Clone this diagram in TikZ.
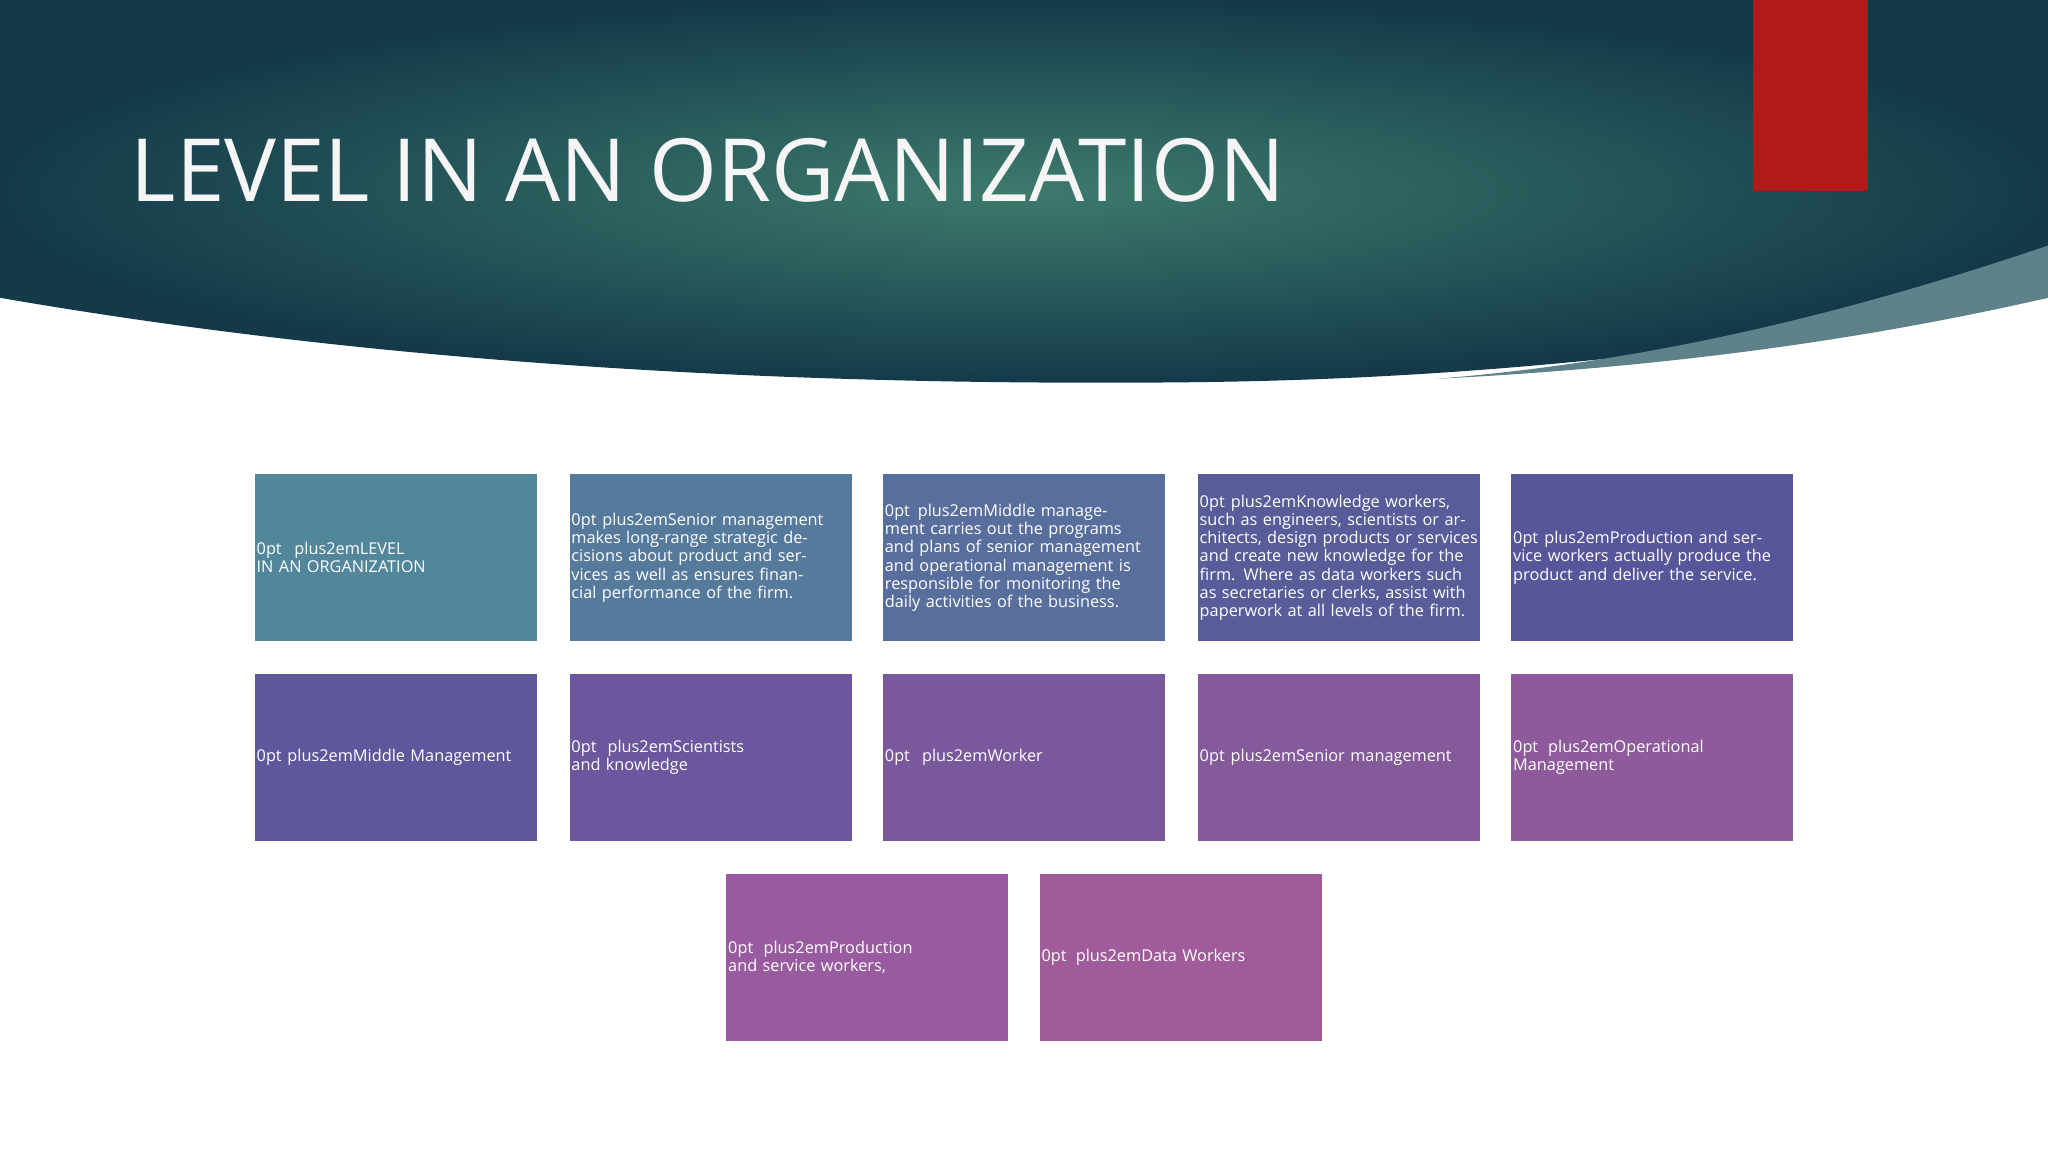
\documentclass[tikz,border=0pt]{standalone}
\usepackage{fontspec}
\setmainfont{Open Sans}
\begin{document}
\begin{tikzpicture}[x=0.02cm,y=-0.02cm,
  bx/.style={draw=none,minimum width=4.32cm,minimum height=2.56cm,text width=4.26cm,align=center,text=white,font=\fontsize{7.1}{7.9}\selectfont\hyphenpenalty=10000,inner sep=0pt}]
\useasboundingbox (0,0) rectangle (1568,882);
\fill[white] (0,0) rectangle (1568,882);
\definecolor{hdA}{HTML}{143A4A}
\definecolor{hdB}{HTML}{3D7A6C}
\shade[inner color=hdB,outer color=hdA] (0,0) -- (1568,0) -- (1568,228) .. controls (1200,290) and (1000,293) .. (840,293) .. controls (600,293) and (300,280) .. (0,228) -- cycle;
\fill[fill={rgb,255:red,95;green,130;blue,138}] (1568,188) .. controls (1400,245) and (1250,278) .. (1100,290) .. controls (1300,280) and (1450,255) .. (1568,228) -- cycle;
\fill[fill={rgb,255:red,176;green,26;blue,26}] (1342,0) rectangle (1430,146);
\node[anchor=base west,text=white!92!gray,font=\fontsize{38}{38}\selectfont] (title) at (94,154) {LEVEL IN AN ORGANIZATION};
\node[bx,fill={rgb,255:red,82;green,134;blue,154}] (a1) at (303,427) {LEVEL IN AN ORGANIZATION};
\node[bx,fill={rgb,255:red,86;green,122;blue,156}] (a2) at (544,427) {Senior management makes long-range strategic decisions about product and services as well as ensures financial performance of the firm.};
\node[bx,fill={rgb,255:red,88;green,110;blue,156}] (a3) at (784,427) {Middle management carries out the programs and plans of senior management and operational management is responsible for monitoring the daily activities of the business.};
\node[bx,fill={rgb,255:red,88;green,93;blue,154}] (a4) at (1025,427) {Knowledge workers, such as engineers, scientists or architects, design products or services and create new knowledge for the firm. Where as data workers such as secretaries or clerks, assist with paperwork at all levels of the firm.};
\node[bx,fill={rgb,255:red,88;green,86;blue,154}] (a5) at (1265,427) {Production and service workers actually produce the product and deliver the service.};
\node[bx,fill={rgb,255:red,95;green,87;blue,156}] (b1) at (303,580) {Middle Management};
\node[bx,fill={rgb,255:red,108;green,86;blue,158}] (b2) at (544,580) {Scientists and knowledge};
\node[bx,fill={rgb,255:red,122;green,88;blue,156}] (b3) at (784,580) {Worker};
\node[bx,fill={rgb,255:red,132;green,90;blue,154}] (b4) at (1025,580) {Senior management};
\node[bx,fill={rgb,255:red,142;green,90;blue,156}] (b5) at (1265,580) {Operational Management};
\node[bx,fill={rgb,255:red,153;green,91;blue,159}] (c1) at (664,733) {Production and service workers,};
\node[bx,fill={rgb,255:red,160;green,92;blue,154}] (c2) at (904,733) {Data Workers};
\end{tikzpicture}
\end{document}
